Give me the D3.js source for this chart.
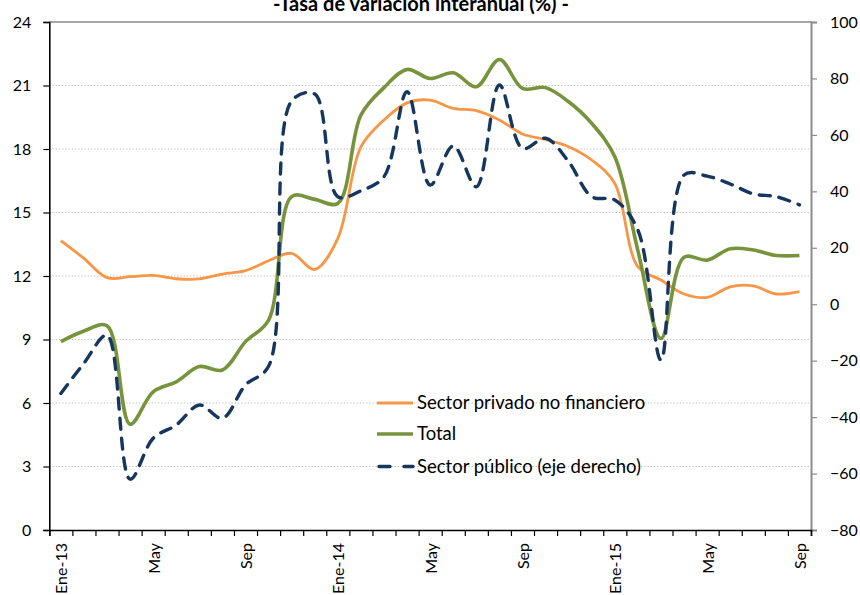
<!DOCTYPE html>
<html>
<head>
<meta charset="utf-8">
<script src="https://cdn.jsdelivr.net/npm/d3@7"></script>
<style>
  body { margin: 0; background: #fff; }
  svg { display: block; font-family: Lato, "Open Sans", sans-serif; }
  .grid line { stroke: #b8b8b8; stroke-width: 1; stroke-dasharray: 1.2 2; }
  .tick-lab { font-size: 16px; fill: #000; }
</style>
</head>
<body>
<div id="chart"></div>
<script>
// months Ene-13 .. Sep-15
const months = [
  'Ene-13','Feb-13','Mar-13','Abr-13','May-13','Jun-13','Jul-13','Ago-13','Sep-13','Oct-13','Nov-13','Dic-13',
  'Ene-14','Feb-14','Mar-14','Abr-14','May-14','Jun-14','Jul-14','Ago-14','Sep-14','Oct-14','Nov-14','Dic-14',
  'Ene-15','Feb-15','Mar-15','Abr-15','May-15','Jun-15','Jul-15','Ago-15','Sep-15'
];
// shown every 4th month
const tickLabels = ['Ene-13','May','Sep','Ene-14','May','Sep','Ene-15','May','Sep'];

const privado = [13.67, 12.83, 11.92, 11.97, 12.03, 11.87, 11.86, 12.09, 12.25, 12.72, 13.07, 12.31,
  13.78, 18.1, 19.37, 20.18, 20.31, 19.92, 19.81, 19.37, 18.71, 18.45, 18.11, 17.48,
  16.37, 12.44, 11.81, 11.15, 10.99, 11.49, 11.53, 11.15, 11.26];
const total = [8.9, 9.4, 9.65, 5.0, 6.53, 7.0, 7.72, 7.56, 8.9, 9.92, 15.75, 15.62,
  15.43, 19.6, 20.9, 21.76, 21.33, 21.6, 20.94, 22.23, 20.86, 20.9, 20.23, 19.21,
  17.63, 13.2, 9.05, 12.88, 12.75, 13.29, 13.23, 12.97, 12.97];
// right axis
const publico = [-31.6, -20.9, -11, -62, -47.5, -42.8, -35.7, -40.4, -28.6, -22, 72, 74.5,
  38.1, 40.2, 45.2, 75.3, 42.2, 56.1, 41.6, 77.7, 55.2, 58.8, 50.5, 38.1,
  36.9, 26.3, -19.8, 45.8, 45.4, 42.6, 39.1, 38.1, 35.2];

const leftTicks = d3.range(0, 25, 3);
const rightTicks = d3.range(-80, 101, 20);

const W = 860, H = 595;
const L = 49.3, R = 811, T = 22, B = 530;

const svg = d3.select('#chart').append('svg').attr('width', W).attr('height', H);

const x = d3.scaleBand().domain(months).range([L, R]).padding(0);
const xc = function (d) { return x(d) + x.bandwidth() / 2; };
const yL = d3.scaleLinear().domain([0, 24]).range([B, T]);
const yR = d3.scaleLinear().domain([-80, 100]).range([B, T]);

// title (partly cut at the top, as in the source)
svg.append('text')
  .attr('x', 421).attr('y', 11)
  .attr('text-anchor', 'middle')
  .style('font-size', '20px').style('font-weight', 'bold')
  .text('-Tasa de variación interanual (%) -');

// gridlines
svg.append('g').attr('class', 'grid')
  .selectAll('line')
  .data(leftTicks.filter(function (t) { return t > 0 && t < 24; }))
  .join('line')
  .attr('x1', L).attr('x2', R)
  .attr('y1', function (d) { return yL(d); })
  .attr('y2', function (d) { return yL(d); });

// plot border top in gray
svg.append('line').attr('x1', L).attr('x2', R + 1).attr('y1', T).attr('y2', T)
  .attr('stroke', '#a6a6a6').attr('stroke-width', 2);

// left axis
const gL = svg.append('g').attr('transform', 'translate(' + L + ',0)')
  .call(d3.axisLeft(yL).tickValues(leftTicks).tickSize(6).tickPadding(12));
gL.select('.domain').attr('stroke', '#000').attr('stroke-width', 1.6);
gL.selectAll('.tick line').attr('stroke', '#000').attr('stroke-width', 1.2);
gL.selectAll('.tick text').attr('class', 'tick-lab').style('font-family', 'Lato');

// right axis
const gR = svg.append('g').attr('transform', 'translate(' + R + ',0)')
  .call(d3.axisRight(yR).tickValues(rightTicks).tickSize(6).tickPadding(13));
gR.select('.domain').attr('stroke', '#8c8c8c').attr('stroke-width', 2);
gR.selectAll('.tick line').attr('stroke', '#8c8c8c').attr('stroke-width', 1.2);
gR.selectAll('.tick text').attr('class', 'tick-lab').style('font-family', 'Lato');

// bottom axis: ticks between categories
const xb = d3.scaleLinear().domain([0, months.length]).range([L, R]);
const gB = svg.append('g').attr('transform', 'translate(0,' + B + ')')
  .call(d3.axisBottom(xb).tickValues(d3.range(0, months.length + 1)).tickSize(6).tickFormat(''));
gB.select('.domain').attr('stroke', '#000').attr('stroke-width', 1.6);
gB.selectAll('.tick line').attr('stroke', '#000').attr('stroke-width', 1.2);

svg.append('g').selectAll('text')
  .data(tickLabels)
  .join('text')
  .attr('class', 'tick-lab')
  .attr('text-anchor', 'end')
  .attr('dy', '0.35em')
  .attr('transform', function (d, i) {
    return 'translate(' + (xc(months[i * 4]) + 1) + ',' + (B + 13) + ') rotate(-90)';
  })
  .text(function (d) { return d; });

// series
const lineL = d3.line().x(function (d, i) { return xc(months[i]); })
  .y(function (d) { return yL(d); }).curve(d3.curveCatmullRom);
const lineR = d3.line().x(function (d, i) { return xc(months[i]); })
  .y(function (d) { return yR(d); }).curve(d3.curveCatmullRom);

const series = [
  { name: 'Sector privado no financiero', values: privado, line: lineL, color: '#f79646', width: 2.8, dash: null },
  { name: 'Total', values: total, line: lineL, color: '#77933c', width: 3.6, dash: null },
  { name: 'Sector público (eje derecho)', values: publico, line: lineR, color: '#17365d', width: 3.4, dash: '11 9' }
];

series.forEach(function (s) {
  svg.append('path')
    .datum(s.values)
    .attr('fill', 'none')
    .attr('stroke', s.color)
    .attr('stroke-width', s.width)
    .attr('stroke-linecap', s.dash ? 'round' : 'butt')
    .attr('stroke-linejoin', 'round')
    .attr('stroke-dasharray', s.dash)
    .attr('d', s.line);
});

// legend
const legendY = [403, 434, 466.5];
const lg = svg.append('g');
series.forEach(function (s, i) {
  lg.append('line')
    .attr('x1', s.dash ? 379 : 377).attr('x2', 413)
    .attr('y1', legendY[i]).attr('y2', legendY[i])
    .attr('stroke', s.color).attr('stroke-width', s.width)
    .attr('stroke-linecap', s.dash ? 'round' : 'butt')
    .attr('stroke-dasharray', s.dash ? '11 14' : null);
  lg.append('text')
    .attr('x', 417).attr('y', legendY[i]).attr('dy', '0.35em')
    .style('font-size', '18.5px')
    .text(s.name);
});
</script>
</body>
</html>
